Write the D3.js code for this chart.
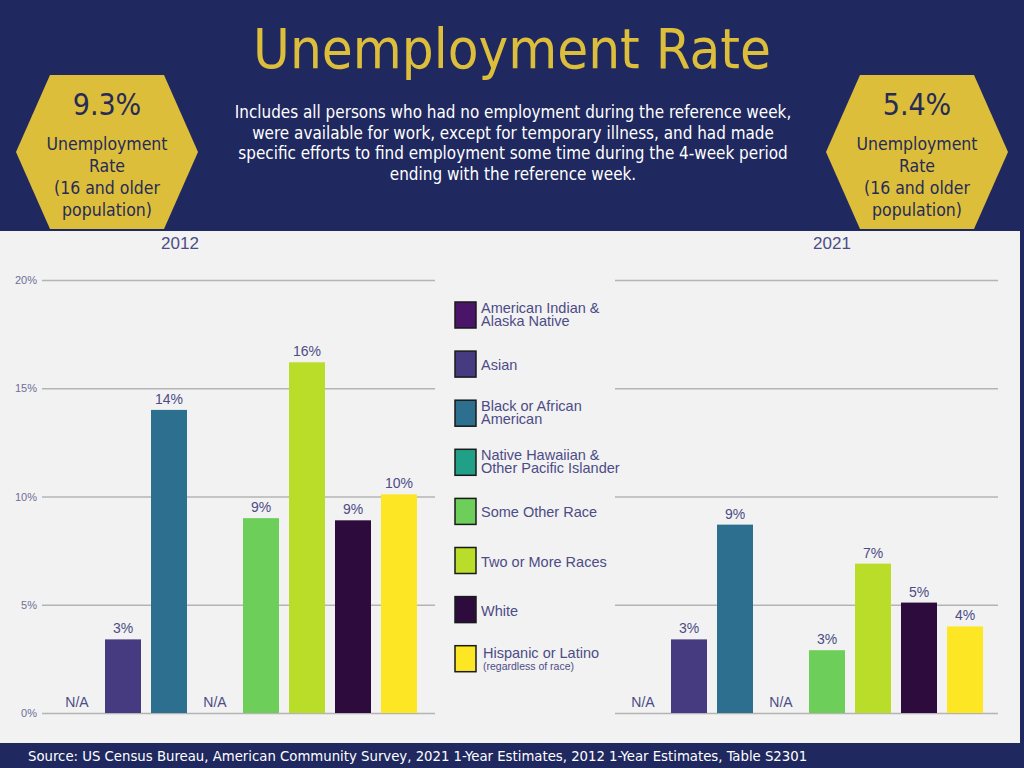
<!DOCTYPE html>
<html>
<head>
<meta charset="utf-8">
<script src="https://cdn.jsdelivr.net/npm/d3@7"></script>
<style>
html,body{margin:0;padding:0;background:#1f2960;}
svg{display:block;}
</style>
</head>
<body>
<svg id="chart" width="1024" height="768"></svg>
<script>
// ---------------- DATA ----------------
const categories = ["American Indian & Alaska Native","Asian","Black or African American","Native Hawaiian & Other Pacific Islander","Some Other Race","Two or More Races","White","Hispanic or Latino"];
const legendLines = [["American Indian &","Alaska Native"],["Asian"],["Black or African","American"],["Native Hawaiian &","Other Pacific Islander"],["Some Other Race"],["Two or More Races"],["White"],["Hispanic or Latino","(regardless of race)"]];
const colors = ["#4a1469","#463a80","#2c6f8e","#20a187","#6dcf59","#b9dd29","#2d0c3d","#fde725"];
const values2012 = [null, 3.4, 14.0, null, 9.0, 16.2, 8.9, 10.1];
const values2021 = [null, 3.4, 8.7, null, 2.9, 6.9, 5.1, 4.0];
const yTicks = [0, 5, 10, 15, 20];
const overall = [{year:"2012", rate:"9.3%"}, {year:"2021", rate:"5.4%"}];
const title = "Unemployment Rate";
const description = ["Includes all persons who had no employment during the reference week,",
  "were available for work, except for temporary illness, and had made",
  "specific efforts to find employment some time during the 4-week period",
  "ending with the reference week."];
const hexLines = ["Unemployment","Rate","(16 and older","population)"];
const source = "Source: US Census Bureau, American Community Survey, 2021 1-Year Estimates, 2012 1-Year Estimates, Table S2301";

// ---------------- LAYOUT ----------------
const svg = d3.select("#chart");
const NAVY = "#1f2960", GOLD = "#dcbe3b", PANEL = "#f2f2f2", TXT = "#4c4c86";
const headFont = "'DejaVu Sans Condensed','DejaVu Sans',sans-serif";
const chartFont = "'Liberation Sans',Arial,sans-serif";

svg.append("rect").attr("width",1024).attr("height",768).attr("fill",NAVY);
svg.append("rect").attr("x",0).attr("y",231).attr("width",1020).attr("height",512).attr("fill",PANEL);

function fitText(sel, target){
  const n = sel.node(); const w = n.getComputedTextLength();
  const fs = parseFloat(sel.attr("font-size"));
  const nfs = fs*target/w;
  sel.attr("font-size", nfs);
  return nfs;
}

// title
fitText(svg.append("text").attr("x",512).attr("y",68).attr("text-anchor","middle")
  .attr("font-family",headFont).attr("font-size",48).attr("fill",GOLD).text(title), 518);

// description
const d0 = svg.append("text").attr("x",513).attr("y",118).attr("text-anchor","middle")
   .attr("font-family",headFont).attr("font-size",15.5).attr("fill","#ffffff").text(description[0]);
const dfs = fitText(d0, 557);
description.slice(1).forEach((t,i)=>{
  svg.append("text").attr("x",513).attr("y",118+(i+1)*20.6).attr("text-anchor","middle")
   .attr("font-family",headFont).attr("font-size",dfs).attr("fill","#ffffff").text(t);
});

// hexagons
const hexCenters = [107, 917];
overall.forEach((o,i)=>{
  const cx = hexCenters[i], cy = 152;
  const pts = [[cx-91,cy],[cx-57,cy-77],[cx+57,cy-77],[cx+91,cy],[cx+57,cy+77],[cx-57,cy+77]];
  svg.append("polygon").attr("points",pts.map(p=>p.join(",")).join(" ")).attr("fill",GOLD);
  svg.append("text").attr("x",cx).attr("y",115).attr("text-anchor","middle")
    .attr("font-family",headFont).attr("font-size",30).attr("fill","#262b57").text(o.rate);
  hexLines.forEach((t,j)=>{
    svg.append("text").attr("x",cx).attr("y",150+j*22).attr("text-anchor","middle")
      .attr("font-family",headFont).attr("font-size",17.5).attr("fill","#262b57").text(t);
  });
});

// footer
fitText(svg.append("text").attr("x",28).attr("y",761).attr("font-family",headFont)
  .attr("font-size",14).attr("fill","#ffffff").text(source), 780);

// ---------------- CHARTS ----------------
const y = d3.scaleLinear().domain([0,20]).range([713,280]);
const panels = [
  {year:"2012", values:values2012, x0:54, x1:422, gx0:42, gx1:435, yearX:180, ticks:true},
  {year:"2021", values:values2021, x0:620, x1:988, gx0:615, gx1:998, yearX:832, ticks:false}
];
const fmt = d => Math.round(d) + "%";

panels.forEach(p=>{
  const g = svg.append("g");
  const x = d3.scaleBand().domain(categories).range([p.x0,p.x1]).paddingInner(10/46).paddingOuter(5/46);
  const axis = d3.axisLeft(y).tickValues(yTicks).tickSize(-(p.gx1-p.gx0)).tickFormat(d=>d+"%");
  const ag = g.append("g").attr("transform",`translate(${p.gx0},0)`).call(axis);
  ag.select(".domain").remove();
  ag.selectAll(".tick line").attr("stroke","#b4b4b4").attr("stroke-width",1.5);
  ag.selectAll(".tick text").attr("font-family",chartFont).attr("font-size",11)
    .attr("fill","#6e6e9a").attr("x",-5).attr("text-anchor","end");
  if(!p.ticks) ag.selectAll(".tick text").remove();

  g.append("text").attr("x",p.yearX).attr("y",249).attr("text-anchor","middle")
    .attr("font-family",chartFont).attr("font-size",17).attr("fill",TXT).text(p.year);

  const data = categories.map((c,i)=>({c, v:p.values[i], col:colors[i]}));
  g.selectAll("rect.bar").data(data.filter(d=>d.v!=null)).join("rect").attr("class","bar")
    .attr("x",d=>x(d.c)).attr("width",x.bandwidth())
    .attr("y",d=>y(d.v)).attr("height",d=>y(0)-y(d.v)).attr("fill",d=>d.col);
  g.selectAll("text.lbl").data(data).join("text").attr("class","lbl")
    .attr("x",d=>x(d.c)+x.bandwidth()/2)
    .attr("y",d=>d.v==null ? y(0)-6 : y(d.v)-6)
    .attr("text-anchor","middle").attr("font-family",chartFont).attr("font-size",14)
    .attr("fill",TXT).text(d=>d.v==null ? "N/A" : fmt(d.v));
});

// legend
const lg = svg.append("g");
legendLines.forEach((lines,i)=>{
  const top = 302 + i*49.1;
  lg.append("rect").attr("x",455).attr("y",top).attr("width",21).attr("height",26)
    .attr("fill",colors[i]).attr("stroke","#1a1a1a").attr("stroke-width",1.5);
  if(lines.length===1){
    lg.append("text").attr("x",481).attr("y",top+19).attr("font-family",chartFont)
      .attr("font-size",14.5).attr("fill",TXT).text(lines[0]);
  } else if(i===7){
    lg.append("text").attr("x",483).attr("y",top+12).attr("font-family",chartFont)
      .attr("font-size",14.5).attr("fill",TXT).text(lines[0]);
    lg.append("text").attr("x",483).attr("y",top+24.5).attr("font-family",chartFont)
      .attr("font-size",10.5).attr("fill",TXT).text(lines[1]);
  } else {
    const t = lg.append("text").attr("x",481).attr("y",top+11).attr("font-family",chartFont)
      .attr("font-size",14.5).attr("fill",TXT);
    lines.forEach((s,j)=>{
      t.append("tspan").attr("x",481).attr("dy", j===0?0:12.5).text(s);
    });
  }
});
</script>
</body>
</html>
